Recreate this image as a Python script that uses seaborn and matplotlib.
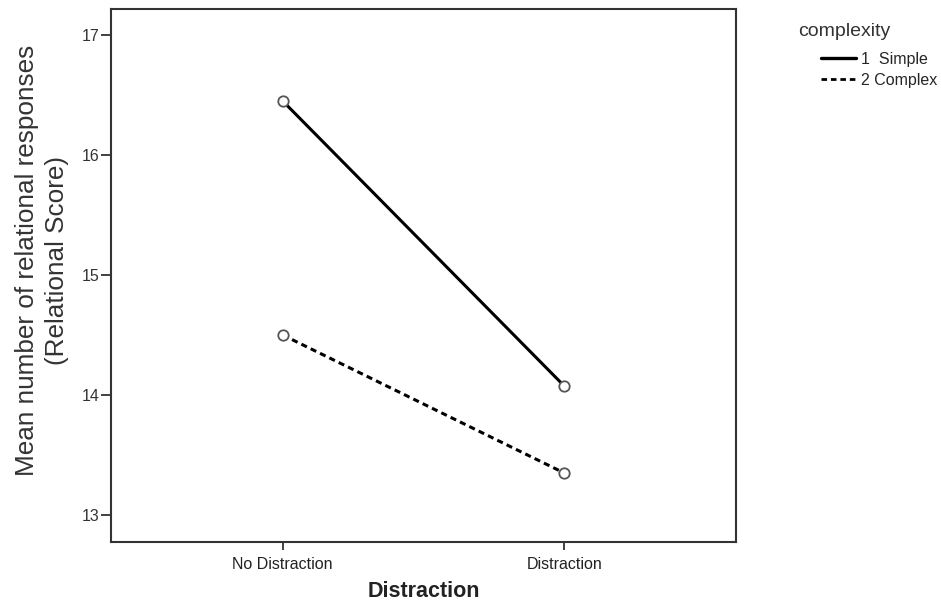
import pandas as pd
import matplotlib.pyplot as plt
import seaborn as sns
from matplotlib.lines import Line2D

# data
distraction = ['No Distraction', 'Distraction']
simple_scores = [16.45, 14.075]
complex_scores = [14.5, 13.35]
complexity_labels = ['1  Simple', '2 Complex']

df = pd.DataFrame({
    'distraction': distraction * 2,
    'score': simple_scores + complex_scores,
    'complexity': [complexity_labels[0]] * 2 + [complexity_labels[1]] * 2,
})

sns.set_theme(style='white')
plt.rcParams['font.family'] = ['Liberation Sans', 'DejaVu Sans']

fig = plt.figure(figsize=(9.41, 6.06), dpi=100)
ax = fig.add_axes([111 / 941, 1 - 542 / 606, 625 / 941, 533 / 606])

dash_style = (0, (2.0, 1.4))
sns.pointplot(data=df, x='distraction', y='score', hue='complexity',
              order=distraction, hue_order=complexity_labels,
              palette=['black', 'black'], markers='o', linestyles=['-', dash_style],
              errorbar=None, ax=ax, legend=False)

# open gray circles, like the SPSS output
for ln in ax.lines:
    ln.set_markerfacecolor('white')
    ln.set_markeredgecolor('#555555')
    ln.set_markersize(7.5)
    ln.set_markeredgewidth(1.3)
    ln.set_linewidth(2.2)
    ln.set_zorder(3)
for coll in ax.collections:
    coll.set_visible(False)

ax.set_xlim(-0.61, 1.61)
ax.set_ylim(12.775, 17.217)
ax.set_yticks([13, 14, 15, 16, 17])
ax.set_yticklabels(['13', '14', '15', '16', '17'])

for sp in ax.spines.values():
    sp.set_visible(True)
    sp.set_color('#333333')
    sp.set_linewidth(1.5)

ax.tick_params(axis='y', direction='out', length=7.5, width=1.3, color='#333333',
               labelsize=11.5, labelcolor='#333333', left=True, pad=1)
ax.tick_params(axis='x', direction='out', length=6, width=1.3, color='#333333',
               labelsize=11.5, labelcolor='#222222', bottom=True, pad=5)

ax.set_xlabel('Distraction', fontsize=15.5, fontweight='bold', color='#222222', labelpad=6)
ax.set_ylabel('Mean number of relational responses\n(Relational Score)',
              fontsize=18.8, color='#333333', linespacing=1.3)
ax.yaxis.set_label_coords(-0.067, 0.529)

# legend outside the plot, right side
fig.text(798 / 941, 1 - 31 / 606, 'complexity', fontsize=14, color='#333333', va='center')
handles = [Line2D([], [], color='black', lw=2.4, ls='-'),
           Line2D([], [], color='black', lw=2.0, ls=dash_style)]
fig.legend(handles, complexity_labels, loc='upper left',
           bbox_to_anchor=(821 / 941, 1 - 52 / 606), frameon=False,
           fontsize=11.5, handlelength=2.2, handletextpad=0.3, labelspacing=0.35,
           borderaxespad=0, borderpad=0)

fig.savefig('out.png', dpi=100)
